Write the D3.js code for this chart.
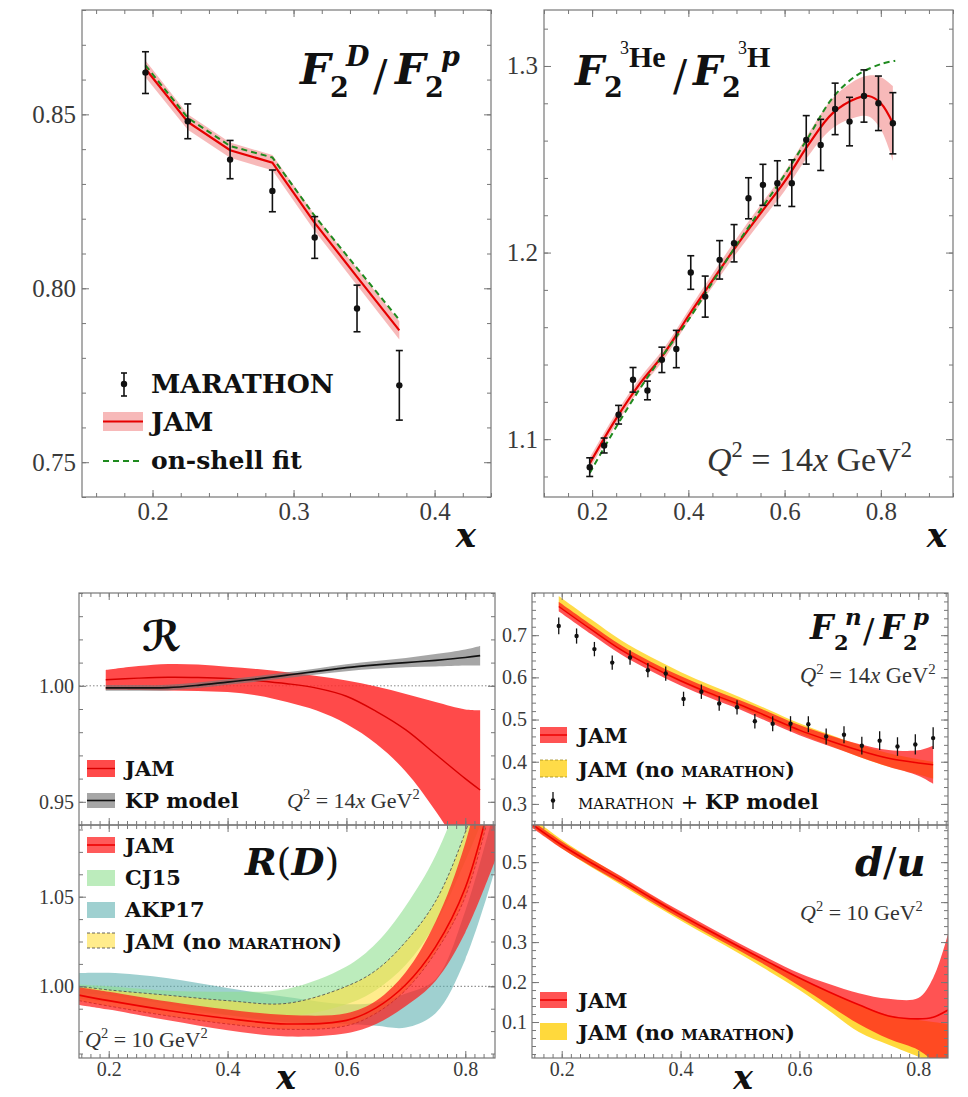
<!DOCTYPE html>
<html><head><meta charset="utf-8">
<script src="https://cdn.jsdelivr.net/npm/d3@7"></script>
<style>body{margin:0;background:#fff}svg{display:block}text{white-space:pre}</style>
</head><body><svg id="c" width="968" height="1097"></svg>
<script>
// ---------------- DATA ----------------
// (a) F2D/F2p
const fdX      = [0.195,0.225,0.255,0.285,0.315,0.345,0.375];
const fdData   = [0.862,0.848,0.837,0.828,0.8146,0.7942,0.7721];
const fdErr    = [0.006,0.005,0.0055,0.006,0.006,0.0067,0.010];
const fdJam    = [0.8631,0.8478,0.8397,0.8361,0.8188,0.8033,0.7879];
const fdJamErr = [0.0024,0.0022,0.0022,0.0022,0.0023,0.0024,0.0026];
const fdOnShell= [0.8641,0.8490,0.8409,0.8376,0.8208,0.8058,0.7909];
// (b) F2He3/F2H3
const marX     = [0.195,0.225,0.255,0.285,0.315,0.345,0.375,0.405,0.435,0.465,0.495,0.525,0.555,0.585,0.615,0.645,0.675,0.705,0.735,0.765,0.795,0.825];
const heData   = [1.085,1.0966,1.1131,1.1318,1.1261,1.1425,1.1483,1.1893,1.1764,1.1961,1.205,1.2291,1.2363,1.2372,1.2372,1.2604,1.2577,1.277,1.2702,1.2839,1.28,1.2693];
const heErr    = [0.005,0.004,0.005,0.0066,0.005,0.0068,0.01,0.009,0.011,0.0103,0.01,0.011,0.011,0.012,0.0125,0.013,0.0137,0.0138,0.013,0.014,0.0146,0.0164];
const heJamX   = [0.195,0.25,0.3,0.35,0.4,0.45,0.5,0.55,0.6,0.65,0.7,0.75,0.775,0.8,0.825];
const heJam    = [1.087,1.111,1.130,1.146,1.166,1.185,1.2036,1.221,1.238,1.258,1.2747,1.2827,1.2839,1.280,1.2693];
const heJamErr = [0.003,0.003,0.003,0.003,0.003,0.0035,0.004,0.0045,0.005,0.006,0.008,0.010,0.011,0.014,0.020];
const heOnShellX = [0.195,0.25,0.3,0.35,0.4,0.45,0.5,0.55,0.6,0.65,0.7,0.75,0.8,0.83];
const heOnShell  = [1.0818,1.1065,1.1273,1.146,1.1639,1.184,1.2041,1.2229,1.2416,1.2621,1.283,1.295,1.301,1.3028];
// (c) R (super-ratio)
const rX     = [0.195,0.25,0.3,0.35,0.4,0.45,0.5,0.55,0.6,0.65,0.7,0.75,0.8,0.825];
const rJam   = [1.0026,1.0033,1.0037,1.0036,1.0032,1.0022,1.0009,0.999,0.9955,0.989,0.981,0.9705,0.960,0.9551];
const rJamLo = [0.9983,0.9982,0.998,0.9978,0.9973,0.9958,0.993,0.9893,0.9835,0.975,0.963,0.946,0.926,0.915];
const rJamHi = [1.0068,1.0085,1.0094,1.0092,1.0082,1.0072,1.0058,1.0042,1.0023,0.9997,0.9965,0.993,0.9898,0.9895];
const rKP    = [0.9991,0.9991,0.9992,1.0002,1.0016,1.003,1.0046,1.0062,1.0078,1.009,1.010,1.011,1.0122,1.013];
const rKPErr = [0.0012,0.0012,0.0012,0.0012,0.0012,0.0012,0.0012,0.0013,0.0015,0.0017,0.002,0.0027,0.0035,0.0042];
// (d) R(D)
const rdX       = [0.15,0.2,0.3,0.4,0.5,0.6,0.65,0.7,0.75,0.8,0.85];
const rdJam     = [0.9951,0.992,0.9865,0.982,0.979,0.981,0.988,1.001,1.022,1.055,1.115];
const rdJamLo   = [0.9896,0.987,0.981,0.9755,0.972,0.9738,0.979,0.989,1.003,1.030,1.07];
const rdJamHi   = [0.9995,0.997,0.9915,0.987,0.984,0.985,0.992,1.008,1.036,1.08,1.15];
const rdNoMarLo = [0.992,0.989,0.9835,0.979,0.976,0.978,0.985,0.998,1.019,1.05,1.11];
const rdNoMarHi = [1.0,0.998,0.995,0.992,0.9905,1.0,1.009,1.025,1.0475,1.086,1.14];
const rdCJ15Lo  = [0.993,0.991,0.987,0.984,0.983,0.99,0.998,1.012,1.035,1.07,1.11];
const rdCJ15Hi  = [1.001,1.0,0.9975,0.997,0.9985,1.011,1.024,1.045,1.073,1.115,1.17];
const rdAKPLo   = [0.996,0.995,0.990,0.984,0.980,0.979,0.978,0.977,0.985,1.015,1.065];
const rdAKPHi   = [1.0074,1.0075,1.0045,0.999,0.994,0.990,0.991,0.996,1.004,1.042,1.10];
// (e) F2n/F2p
const npData   = [0.722,0.698,0.667,0.635,0.647,0.617,0.609,0.549,0.566,0.538,0.529,0.496,0.490,0.490,0.489,0.460,0.464,0.438,0.450,0.436,0.441,0.456];
const npErr    = [0.02,0.018,0.017,0.017,0.017,0.017,0.017,0.017,0.017,0.017,0.017,0.017,0.018,0.018,0.019,0.019,0.02,0.021,0.022,0.022,0.024,0.026];
const npBandX  = [0.195,0.25,0.3,0.35,0.4,0.45,0.5,0.55,0.6,0.65,0.7,0.75,0.8,0.825];
const npJam    = [0.768,0.713,0.665,0.626,0.592,0.562,0.535,0.505,0.475,0.450,0.427,0.408,0.397,0.393];
const npJamErr = [0.011,0.011,0.011,0.011,0.011,0.011,0.011,0.012,0.012,0.013,0.015,0.02,0.03,0.045];
const npNoMar    = [0.781,0.725,0.676,0.636,0.601,0.570,0.541,0.510,0.479,0.452,0.426,0.404,0.388,0.38];
const npNoMarErr = [0.012,0.012,0.012,0.012,0.012,0.012,0.012,0.012,0.012,0.013,0.014,0.016,0.018,0.02];
// (f) d/u
const duX       = [0.15,0.2,0.25,0.3,0.35,0.4,0.45,0.5,0.55,0.6,0.65,0.7,0.75,0.8,0.825,0.85];
const duJam     = [0.595,0.543,0.498,0.456,0.411,0.368,0.327,0.287,0.248,0.21,0.175,0.143,0.115,0.108,0.112,0.13];
const duJamLo   = [0.586,0.534,0.489,0.447,0.402,0.359,0.318,0.278,0.236,0.19,0.142,0.095,0.058,0.03,0.0,-0.05];
const duJamHi   = [0.604,0.552,0.507,0.465,0.42,0.377,0.336,0.296,0.258,0.222,0.195,0.172,0.158,0.16,0.21,0.32];
const duNoMarLo = [0.59,0.535,0.487,0.443,0.398,0.354,0.312,0.27,0.226,0.18,0.128,0.075,0.043,0.013,-0.005,-0.03];
const duNoMarHi = [0.612,0.556,0.508,0.463,0.417,0.373,0.331,0.29,0.25,0.211,0.176,0.143,0.117,0.105,0.1,0.095];

// tick labels
const fdXTicks = [0.2,0.3,0.4], fdYTicks = [0.75,0.80,0.85];
const heXTicks = [0.2,0.4,0.6,0.8], heYTicks = [1.1,1.2,1.3];
const botXTicks = [0.2,0.4,0.6,0.8];
const rYTicks = [0.95,1.00], rdYTicks = [1.00,1.05];
const npYTicks = [0.3,0.4,0.5,0.6,0.7], duYTicks = [0.1,0.2,0.3,0.4,0.5];

// ---------------- DRAWING ----------------
const svg = d3.select("#c");
svg.append("rect").attr("width",968).attr("height",1097).attr("fill","#fff");
const ROM = "Liberation Serif", MATH = "DejaVu Serif";
const SMOOTH = d3.curveCatmullRom.alpha(0.5);
let clipN = 0;
function panel(c){
  const x = d3.scaleLinear().domain(c.xd).range([c.x0,c.x1]);
  const y = d3.scaleLinear().domain(c.yd).range([c.y1,c.y0]);
  const id = "clip"+(clipN++);
  svg.append("clipPath").attr("id",id).append("rect")
    .attr("x",c.x0).attr("y",c.y0).attr("width",c.x1-c.x0).attr("height",c.y1-c.y0);
  const g = svg.append("g").attr("clip-path",`url(#${id})`);
  return {x,y,g,c};
}
function styleAx(g,fs){
  g.select(".domain").remove();
  g.selectAll("line").attr("stroke","#777").attr("stroke-width",1);
  g.selectAll("text").attr("font-family",ROM).attr("font-size",fs).attr("fill","#3a3a3a");
}
function axes(p,o){
  const {x,y,c} = p, M=7, m=4, none=()=>"";
  const ax = svg.append("g");
  ax.append("g").attr("transform",`translate(0,${c.y1})`)
    .call(d3.axisBottom(x).tickValues(o.xMaj).tickSize(-M).tickPadding(o.xPad).tickFormat(o.xLab?o.xFmt:none)).call(g=>styleAx(g,o.fs));
  ax.append("g").attr("transform",`translate(0,${c.y1})`)
    .call(d3.axisBottom(x).tickValues(o.xMin).tickSize(-m).tickFormat(none)).call(g=>styleAx(g,o.fs));
  ax.append("g").attr("transform",`translate(0,${c.y0})`)
    .call(d3.axisTop(x).tickValues(o.xMaj).tickSize(-M).tickFormat(none)).call(g=>styleAx(g,o.fs));
  ax.append("g").attr("transform",`translate(0,${c.y0})`)
    .call(d3.axisTop(x).tickValues(o.xMin).tickSize(-m).tickFormat(none)).call(g=>styleAx(g,o.fs));
  ax.append("g").attr("transform",`translate(${c.x0},0)`)
    .call(d3.axisLeft(y).tickValues(o.yMaj).tickSize(-M).tickPadding(o.yPad).tickFormat(o.yFmt)).call(g=>styleAx(g,o.fs));
  ax.append("g").attr("transform",`translate(${c.x0},0)`)
    .call(d3.axisLeft(y).tickValues(o.yMin).tickSize(-m).tickFormat(none)).call(g=>styleAx(g,o.fs));
  ax.append("g").attr("transform",`translate(${c.x1},0)`)
    .call(d3.axisRight(y).tickValues(o.yMaj).tickSize(-M).tickFormat(none)).call(g=>styleAx(g,o.fs));
  ax.append("g").attr("transform",`translate(${c.x1},0)`)
    .call(d3.axisRight(y).tickValues(o.yMin).tickSize(-m).tickFormat(none)).call(g=>styleAx(g,o.fs));
  ax.append("rect").attr("x",c.x0).attr("y",c.y0).attr("width",c.x1-c.x0).attr("height",c.y1-c.y0)
    .attr("fill","none").attr("stroke","#777").attr("stroke-width",1.2);
}
const within = (arr,d) => arr.filter(v => v>=Math.min(...d)-1e-9 && v<=Math.max(...d)+1e-9);
const rng = (a,b,s) => d3.range(Math.round(a/s), Math.round(b/s)+1).map(i=>+(i*s).toFixed(6));

function band(p,xs,lo,hi,fill,op,curve){
  const data = xs.map((v,i)=>({x:v,lo:lo[i],hi:hi[i]}));
  p.g.append("path").datum(data).attr("fill",fill).attr("fill-opacity",op)
    .attr("d",d3.area().x(d=>p.x(d.x)).y0(d=>p.y(d.lo)).y1(d=>p.y(d.hi)).curve(curve||SMOOTH));
}
function line(p,xs,ys,stroke,w,dash,curve){
  const data = xs.map((v,i)=>({x:v,y:ys[i]}));
  p.g.append("path").datum(data).attr("fill","none").attr("stroke",stroke).attr("stroke-width",w)
    .attr("stroke-dasharray",dash||null)
    .attr("d",d3.line().x(d=>p.x(d.x)).y(d=>p.y(d.y)).curve(curve||SMOOTH));
}
function errPts(p,xs,ys,es,r,cap,w){
  const g = p.g.append("g");
  xs.forEach((v,i)=>{
    const X=p.x(v), y0=p.y(ys[i]-es[i]), y1=p.y(ys[i]+es[i]);
    g.append("line").attr("x1",X).attr("x2",X).attr("y1",y0).attr("y2",y1).attr("stroke","#111").attr("stroke-width",w);
    if(cap){
      g.append("line").attr("x1",X-cap).attr("x2",X+cap).attr("y1",y0).attr("y2",y0).attr("stroke","#111").attr("stroke-width",w);
      g.append("line").attr("x1",X-cap).attr("x2",X+cap).attr("y1",y1).attr("y2",y1).attr("stroke","#111").attr("stroke-width",w);
    }
    g.append("circle").attr("cx",X).attr("cy",p.y(ys[i])).attr("r",r).attr("fill","#111");
  });
}
function T(x,y,s,fs,o={}){
  return svg.append("text").attr("x",x).attr("y",y).attr("font-size",fs)
    .attr("font-family",o.fam||ROM).attr("font-weight",o.b?"bold":"normal")
    .attr("font-style",o.i?"italic":"normal").attr("fill",o.fill||"#111")
    .attr("text-anchor",o.anchor||"start").text(s);
}
function rich(x,y,fs,parts,o={}){
  const t = svg.append("text").attr("x",x).attr("y",y).attr("font-size",fs)
    .attr("font-family",o.fam||ROM).attr("fill",o.fill||"#222").attr("text-anchor",o.anchor||"start");
  let shift = 0;
  parts.forEach(([s,k])=>{
    const f = (k||"").split(" ");
    const sp = t.append("tspan").text(s);
    let target = 0, size = fs;
    if(f.includes("sup")){target=-0.4*fs; size=0.66*fs;}
    sp.attr("dy",target-shift).attr("font-size",size);
    shift = target;
    if(f.includes("i")) sp.attr("font-style","italic");
    if(f.includes("b")) sp.attr("font-weight","bold");
    if(f.includes("sc")) sp.style("font-variant","small-caps");
  });
  return t;
}
const qText14 = [["Q","i"],["2","sup"],[" = 14",""],["x","i"],[" GeV",""],["2","sup"]];
const qText10 = [["Q","i"],["2","sup"],[" = 10 GeV",""],["2","sup"]];

// ===== Panel (a) =====
const pa = panel({x0:82,x1:491,y0:10,y1:497,xd:[0.15,0.44],yd:[0.74,0.88]});
band(pa,fdX,fdJam.map((v,i)=>v-fdJamErr[i]),fdJam.map((v,i)=>v+fdJamErr[i]),"#f08080",0.55,d3.curveLinear);
line(pa,fdX,fdJam,"#e60000",2.2,null,d3.curveLinear);
line(pa,fdX,fdOnShell,"#1e8a1e",2,"6,4",d3.curveLinear);
errPts(pa,fdX,fdData,fdErr,3.2,3.5,1.6);
axes(pa,{xMaj:fdXTicks,xMin:within(rng(0.16,0.44,0.02),[0.15,0.44]),yMaj:fdYTicks,yMin:within(rng(0.74,0.88,0.01),[0.74,0.88]),
  xLab:true,xFmt:d3.format(".1f"),yFmt:d3.format(".2f"),xPad:5,yPad:6,fs:25});
// title
T(300,84,"F",43,{fam:MATH,b:true,i:true});
T(330,97,"2",27,{fam:MATH,b:true});
T(346,66,"D",27,{fam:MATH,b:true,i:true});
T(373,90,"/",43,{fam:MATH});
T(395,84,"F",43,{fam:MATH,b:true,i:true});
T(425,97,"2",27,{fam:MATH,b:true});
T(441,66,"p",27,{fam:MATH,b:true,i:true});
// legend
svg.append("line").attr("x1",124).attr("x2",124).attr("y1",373).attr("y2",396).attr("stroke","#111").attr("stroke-width",1.6);
svg.append("line").attr("x1",121).attr("x2",127).attr("y1",373).attr("y2",373).attr("stroke","#111").attr("stroke-width",1.6);
svg.append("line").attr("x1",121).attr("x2",127).attr("y1",396).attr("y2",396).attr("stroke","#111").attr("stroke-width",1.6);
svg.append("circle").attr("cx",124).attr("cy",384).attr("r",3.2).attr("fill","#111");
T(151,393,"MARATHON",26.5,{fam:MATH,b:true});
svg.append("rect").attr("x",103).attr("y",412).attr("width",40).attr("height",19).attr("fill","#f08080").attr("fill-opacity",0.55);
svg.append("line").attr("x1",103).attr("x2",143).attr("y1",421.5).attr("y2",421.5).attr("stroke","#e60000").attr("stroke-width",2.2);
T(151,431,"JAM",26.5,{fam:MATH,b:true});
svg.append("line").attr("x1",103).attr("x2",143).attr("y1",461).attr("y2",461).attr("stroke","#1e8a1e").attr("stroke-width",2).attr("stroke-dasharray","6,4");
T(151,469,"on-shell fit",25,{fam:MATH,b:true});
T(466,547,"x",34,{fam:MATH,b:true,i:true,anchor:"middle"});

// ===== Panel (b) =====
const pb = panel({x0:544,x1:953,y0:10,y1:497,xd:[0.1,0.95],yd:[1.069,1.33]});
band(pb,heJamX,heJam.map((v,i)=>v-heJamErr[i]),heJam.map((v,i)=>v+heJamErr[i]),"#f08080",0.55);
line(pb,heJamX,heJam,"#e60000",2.2);
line(pb,heOnShellX,heOnShell,"#1e8a1e",2,"6,4");
errPts(pb,marX,heData,heErr,3.2,3.5,1.6);
axes(pb,{xMaj:heXTicks,xMin:within(rng(0.1,0.95,0.05),[0.1,0.95]),yMaj:heYTicks,yMin:within(rng(1.07,1.33,0.02),[1.069,1.33]),
  xLab:true,xFmt:d3.format(".1f"),yFmt:d3.format(".1f"),xPad:5,yPad:6,fs:25});
T(575,85,"F",41,{fam:MATH,b:true,i:true});
T(604,97,"2",27,{fam:MATH,b:true});
T(620,54,"3",18,{fam:ROM});
T(629,67,"He",30,{fam:ROM,b:true});
T(673,90,"/",42,{fam:MATH});
T(693,85,"F",41,{fam:MATH,b:true,i:true});
T(722,97,"2",27,{fam:MATH,b:true});
T(738,54,"3",18,{fam:ROM});
T(747,67,"H",30,{fam:ROM,b:true});
rich(707,471,34,qText14,{fill:"#333"});
T(937,547,"x",34,{fam:MATH,b:true,i:true,anchor:"middle"});

// ===== Panel (c) R =====
const xBotMin = d3.range(-20,80).map(i=>+(0.2+i*0.2/13).toFixed(5)).filter(v=>v>=0.15&&v<=0.85);
const pc = panel({x0:79,x1:495,y0:593,y1:825,xd:[0.15,0.85],yd:[0.94,1.04]});
pc.g.append("line").attr("x1",79).attr("x2",495).attr("y1",pc.y(1)).attr("y2",pc.y(1)).attr("stroke","#888").attr("stroke-dasharray","1.5,2").attr("stroke-width",1);
band(pc,rX,rJamLo,rJamHi,"#ff2a2a",0.85);
line(pc,rX,rJam,"#d80000",1.4);
band(pc,rX,rKP.map((v,i)=>v-rKPErr[i]),rKP.map((v,i)=>v+rKPErr[i]),"#777",0.65);
line(pc,rX,rKP,"#111",1.7);
axes(pc,{xMaj:botXTicks,xMin:xBotMin,yMaj:rYTicks,yMin:within(rng(0.94,1.04,0.01),[0.94,1.04]),
  xLab:false,yFmt:d3.format(".2f"),xPad:4,yPad:5,fs:20});
T(142,651,"\u211B",42,{fam:"DejaVu Sans",b:true});
svg.append("rect").attr("x",87).attr("y",760).attr("width",28).attr("height",17).attr("fill","#ff2a2a").attr("fill-opacity",0.85);
svg.append("line").attr("x1",87).attr("x2",115).attr("y1",768.5).attr("y2",768.5).attr("stroke","#d80000").attr("stroke-width",1.4);
T(125,776,"JAM",21,{fam:MATH,b:true});
svg.append("rect").attr("x",87).attr("y",793).attr("width",28).attr("height",15).attr("fill","#777").attr("fill-opacity",0.65);
svg.append("line").attr("x1",87).attr("x2",115).attr("y1",800.5).attr("y2",800.5).attr("stroke","#111").attr("stroke-width",1.6);
T(125,808,"KP model",21,{fam:MATH,b:true});
rich(287,808,22,qText14,{fill:"#333"});

// ===== Panel (d) R(D) =====
const pd = panel({x0:79,x1:495,y0:825,y1:1058,xd:[0.15,0.85],yd:[0.96,1.09]});
pd.g.append("line").attr("x1",79).attr("x2",495).attr("y1",pd.y(1)).attr("y2",pd.y(1)).attr("stroke","#777").attr("stroke-dasharray","1.5,2").attr("stroke-width",1);
band(pd,rdX,rdAKPLo,rdAKPHi,"#5fb0b0",0.6);
band(pd,rdX,rdCJ15Lo,rdCJ15Hi,"#8fe08f",0.6);
band(pd,rdX,rdNoMarLo,rdNoMarHi,"#ffe040",0.6);
line(pd,rdX,rdNoMarHi,"#555",0.9,"3,2");
line(pd,rdX,rdNoMarLo,"#555",0.9,"3,2");
band(pd,rdX,rdJamLo,rdJamHi,"#ff1a1a",0.72);
line(pd,rdX,rdJam,"#ee0000",1.6);
axes(pd,{xMaj:botXTicks,xMin:xBotMin,yMaj:rdYTicks,yMin:within(rng(0.9625,1.0875,0.0125),[0.96,1.09]),
  xLab:true,xFmt:d3.format(".1f"),yFmt:d3.format(".2f"),xPad:4,yPad:5,fs:20});
rich(245,875,38,[["R","b i"],["(",""],["D","b i"],[")",""]],{fam:MATH,fill:"#111"});
const lgD = [["JAM","#ff1a1a",0.72,837,853],["CJ15","#8fe08f",0.6,870,885],["AKP17","#5fb0b0",0.6,902,917]];
lgD.forEach(([s,col,op,y0,bl])=>{
  svg.append("rect").attr("x",87).attr("y",y0).attr("width",28).attr("height",16).attr("fill",col).attr("fill-opacity",op);
  T(125,bl,s,21,{fam:MATH,b:true});
});
svg.append("line").attr("x1",87).attr("x2",115).attr("y1",845).attr("y2",845).attr("stroke","#ee0000").attr("stroke-width",1.6);
svg.append("rect").attr("x",87).attr("y",933).attr("width",28).attr("height",15).attr("fill","#ffe040").attr("fill-opacity",0.6);
[933,948].forEach(v=>svg.append("line").attr("x1",87).attr("x2",115).attr("y1",v).attr("y2",v).attr("stroke","#555").attr("stroke-width",0.9).attr("stroke-dasharray","3,2"));
rich(125,949,21,[["JAM (no ","b"],["marathon","b sc"],[")","b"]],{fam:MATH,fill:"#111"});
rich(85,1047,22,qText10,{fill:"#333"});
T(286,1089,"x",33,{fam:MATH,b:true,i:true,anchor:"middle"});

// ===== Panel (e) F2n/F2p =====
const pe = panel({x0:532,x1:948,y0:593,y1:825,xd:[0.15,0.85],yd:[0.25,0.8]});
band(pe,npBandX,npNoMar.map((v,i)=>v-npNoMarErr[i]),npNoMar.map((v,i)=>v+npNoMarErr[i]),"#ffd21a",0.8);
band(pe,npBandX,npJam.map((v,i)=>v-npJamErr[i]),npJam.map((v,i)=>v+npJamErr[i]),"#ff1a1a",0.75);
line(pe,npBandX,npJam,"#ee0000",1.5);
errPts(pe,marX,npData,npErr,2.2,0,1.3);
axes(pe,{xMaj:botXTicks,xMin:xBotMin,yMaj:npYTicks,yMin:within(rng(0.26,0.8,0.02),[0.25,0.8]),
  xLab:false,yFmt:d3.format(".1f"),xPad:4,yPad:5,fs:20});
T(810,639,"F",33,{fam:MATH,b:true,i:true});
T(834,650,"2",21,{fam:MATH,b:true});
T(845,625,"n",23,{fam:MATH,b:true,i:true});
T(863,643,"/",34,{fam:MATH});
T(880,639,"F",33,{fam:MATH,b:true,i:true});
T(903,650,"2",21,{fam:MATH,b:true});
T(913,625,"p",23,{fam:MATH,b:true,i:true});
rich(800,683,22.5,qText14,{fill:"#333"});
svg.append("rect").attr("x",540).attr("y",727).attr("width",27).attr("height",16).attr("fill","#ff1a1a").attr("fill-opacity",0.75);
svg.append("line").attr("x1",540).attr("x2",567).attr("y1",735).attr("y2",735).attr("stroke","#ee0000").attr("stroke-width",1.5);
T(578,743,"JAM",21,{fam:MATH,b:true});
svg.append("rect").attr("x",540).attr("y",760).attr("width",27).attr("height",17).attr("fill","#ffd21a").attr("fill-opacity",0.8);
[760,777].forEach(v=>svg.append("line").attr("x1",540).attr("x2",567).attr("y1",v).attr("y2",v).attr("stroke","#a08a20").attr("stroke-width",0.8).attr("stroke-dasharray","3,2"));
rich(578,777,21,[["JAM (no ","b"],["marathon","b sc"],[")","b"]],{fam:MATH,fill:"#111"});
svg.append("line").attr("x1",553).attr("x2",553).attr("y1",792).attr("y2",809).attr("stroke","#111").attr("stroke-width",1.3);
svg.append("circle").attr("cx",553).attr("cy",800.5).attr("r",2.2).attr("fill","#111");
rich(578,809,21,[["marathon","sc"],[" + ",""],["KP model","b"]],{fam:MATH,fill:"#111"});

// ===== Panel (f) d/u =====
const pf = panel({x0:532,x1:948,y0:825,y1:1058,xd:[0.15,0.85],yd:[0.01,0.593]});
band(pf,duX,duNoMarLo,duNoMarHi,"#ffd21a",0.85);
band(pf,duX,duJamLo,duJamHi,"#ff1a1a",0.75);
line(pf,duX,duJam,"#ee0000",1.6);
axes(pf,{xMaj:botXTicks,xMin:xBotMin,yMaj:duYTicks,yMin:within(rng(0.02,0.58,0.02),[0.01,0.593]),
  xLab:true,xFmt:d3.format(".1f"),yFmt:d3.format(".1f"),xPad:4,yPad:5,fs:20});
rich(855,876,40,[["d","b i"],["/",""],["u","b i"]],{fam:MATH,fill:"#111"});
rich(800,920,22,qText10,{fill:"#333"});
svg.append("rect").attr("x",540).attr("y",992).attr("width",27).attr("height",16).attr("fill","#ff1a1a").attr("fill-opacity",0.75);
svg.append("line").attr("x1",540).attr("x2",567).attr("y1",1000).attr("y2",1000).attr("stroke","#ee0000").attr("stroke-width",1.6);
T(578,1008,"JAM",21,{fam:MATH,b:true});
svg.append("rect").attr("x",540).attr("y",1023).attr("width",27).attr("height",17).attr("fill","#ffd21a").attr("fill-opacity",0.85);
rich(578,1040,21,[["JAM (no ","b"],["marathon","b sc"],[")","b"]],{fam:MATH,fill:"#111"});
T(743,1089,"x",33,{fam:MATH,b:true,i:true,anchor:"middle"});
</script></body></html>
